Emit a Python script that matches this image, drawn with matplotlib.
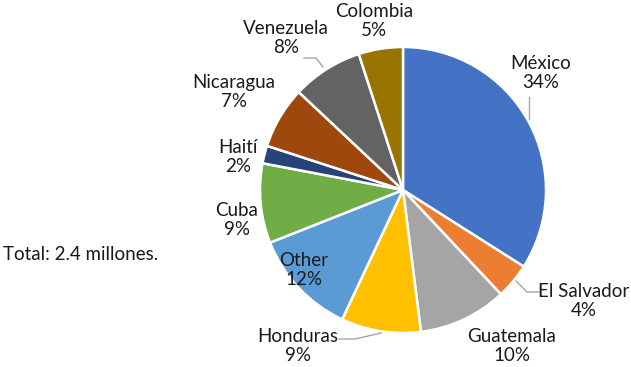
import matplotlib.pyplot as plt

plt.rcParams['font.family'] = ['Lato', 'DejaVu Sans']

W, H = 631, 367

countries = ["México", "El Salvador", "Guatemala", "Honduras", "Other",
             "Cuba", "Haití", "Nicaragua", "Venezuela", "Colombia"]
shares = [34, 4, 10, 9, 12, 9, 2, 7, 8, 5]
colors = ["#4472C4", "#ED7D31", "#A5A5A5", "#FFC000", "#5B9BD5",
          "#70AD47", "#264478", "#9E480E", "#636363", "#997300"]
total_note = "Total: 2.4 millones."

# label block centres in pixel coords (x, y from top)
label_pos = {
    "México": (541, 73),
    "El Salvador": (584, 301),
    "Guatemala": (512, 346),
    "Honduras": (298, 346),
    "Other": (304, 270),
    "Cuba": (237, 220),
    "Haití": (238, 157),
    "Nicaragua": (234, 92),
    "Venezuela": (286, 38),
    "Colombia": (374, 21),
}

# leader lines (pixel coords, y from top)
leaders = [
    [(529, 97), (529, 119)],
    [(304, 58), (316, 58), (323, 67)],
    [(516, 281), (527, 292), (539, 292)],
    [(339, 339), (355, 339), (381, 333)],
]


def py(y):
    return H - y


fig = plt.figure(figsize=(W / 100, H / 100), dpi=100)
ax = fig.add_axes([0, 0, 1, 1])

ax.pie(shares, colors=colors, startangle=90, counterclock=False,
       center=(403, py(190)), radius=143,
       wedgeprops=dict(edgecolor='white', linewidth=1.8))

ax.set_xlim(0, W)
ax.set_ylim(0, H)
ax.set_aspect('equal')
ax.axis('off')

for pts in leaders:
    xs = [p[0] for p in pts]
    ys = [py(p[1]) for p in pts]
    ax.plot(xs, ys, color='#A6A6A6', linewidth=1.0)

for name, val in zip(countries, shares):
    x, y = label_pos[name]
    ax.text(x, py(y), f"{name}\n{val}%", ha='center', va='center',
            fontsize=13.5, color='#1a1a1a', linespacing=1.2)

ax.text(3, py(255), total_note, ha='left', va='center',
        fontsize=13.5, color='#1a1a1a')

fig.savefig("out.png", dpi=100)
